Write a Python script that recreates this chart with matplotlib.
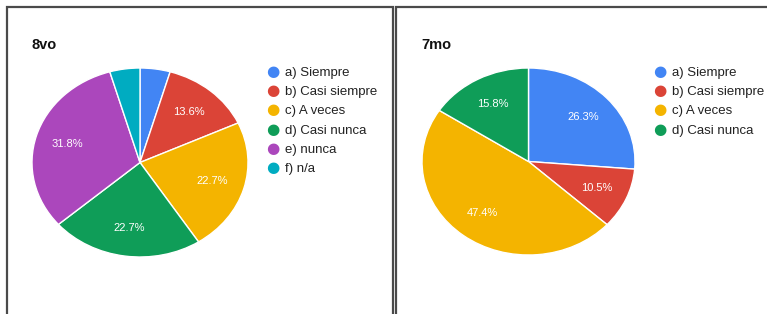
import matplotlib.pyplot as plt
import matplotlib
from matplotlib.patches import Rectangle

matplotlib.rcParams['font.family'] = ['Liberation Sans', 'DejaVu Sans']

W, H = 767, 314

# data
labels_8vo = ["a) Siempre", "b) Casi siempre", "c) A veces", "d) Casi nunca", "e) nunca", "f) n/a"]
values_8vo = [4.5, 13.6, 22.7, 22.7, 31.8, 4.5]
labels_7mo = ["a) Siempre", "b) Casi siempre", "c) A veces", "d) Casi nunca"]
values_7mo = [26.3, 10.5, 47.4, 15.8]

colors = ["#4285F4", "#DB4437", "#F4B400", "#0F9D58", "#AB47BC", "#00ACC1"]

fig = plt.figure(figsize=(W / 100, H / 100), dpi=100)
fig.patch.set_facecolor("white")

def px_axes(x0, y0, x1, y1):
    # pixel box (top-left origin) -> figure axes
    return fig.add_axes([x0 / W, 1 - y1 / H, (x1 - x0) / W, (y1 - y0) / H])

def make_pct(values):
    total = sum(values)
    def f(p):
        v = p * total / 100
        return "%.1f%%" % v if v >= 8 else ""
    return f

def draw_panel(title, labels, values, box, pie_box, tx, lx):
    # panel border
    x0, y0, x1, y1 = box
    fig.patches.append(Rectangle((x0 / W, 1 - y1 / H), (x1 - x0) / W, (y1 - y0) / H,
                                 transform=fig.transFigure, fill=False,
                                 edgecolor="#4a4a4a", linewidth=1.6))
    fig.text(tx / W, 1 - 45 / H, title, fontsize=10.5, fontweight="bold",
             va="center", ha="left", color="#111111")

    ax = px_axes(*pie_box)
    ax.pie(values, colors=colors[:len(values)], startangle=90,
           counterclock=False, autopct=make_pct(values), pctdistance=0.7,
           wedgeprops=dict(edgecolor="white", linewidth=1),
           textprops=dict(color="white", fontsize=8))
    ax.set_aspect("auto")
    ax.set_xlim(-1, 1)
    ax.set_ylim(-1, 1)
    ax.axis("off")

    for i, lab in enumerate(labels):
        y = 1 - (73 + i * 19.2) / H
        fig.text(lx / W, y + 1.5 / H, "\u25CF", fontsize=11, color=colors[i], va="center",
                 ha="center", family="DejaVu Sans")
        fig.text((lx + 12) / W, y, lab, fontsize=9.5, color="#222222", va="center", ha="left")

draw_panel("8vo", labels_8vo, values_8vo, (7, 7, 393, 320), (32, 68, 248, 257), 31, 273)
draw_panel("7mo", labels_7mo, values_7mo, (396, 7, 772, 320), (422, 68, 635, 255), 421, 660)

fig.savefig("out.png", dpi=100)
